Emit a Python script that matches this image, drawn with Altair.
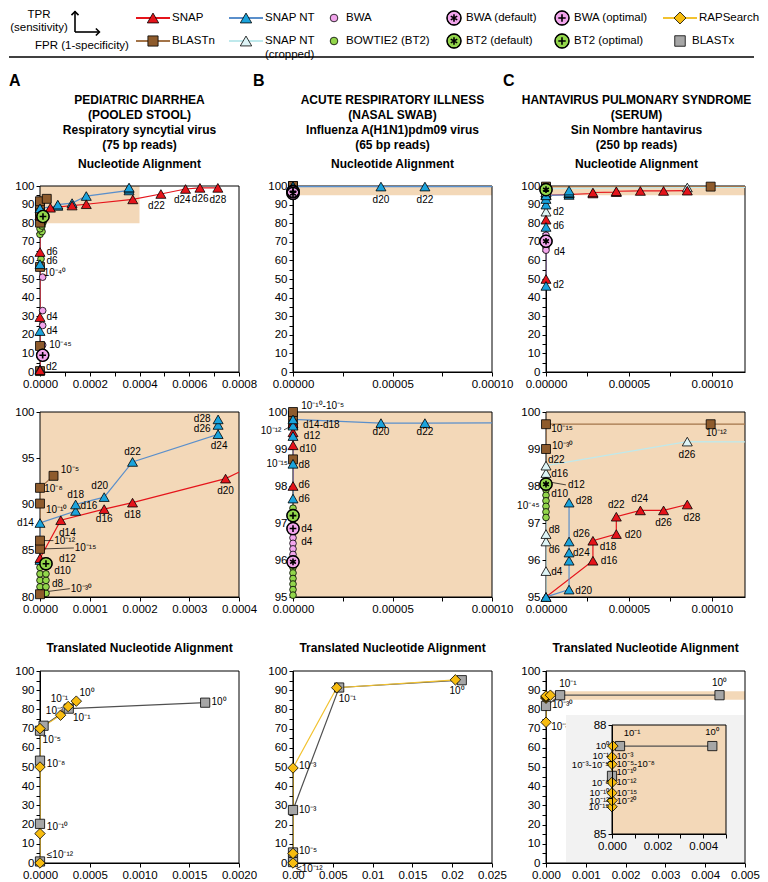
import altair as alt
import pandas as pd

FONT = "Liberation Sans"

# ---------------- colours / styles ----------------
TAN = "#F3D8B8"
RED = "#E5141B"
BLUE = "#1BA3DC"; BLUE_LINE = "#5A8FCB"
CROP = "#DDF4F6"; CROP_LINE = "#BFE9EC"
BROWN = "#8E5B2C"; BROWN_LINE = "#A37449"
PINK = "#F2A5EC"
GREEN = "#93D64B"
YELLOW = "#F7BC10"; YELLOW_LINE = "#F2C230"
GRAY = "#A6A6A6"; GRAY_LINE = "#505050"
STAR = "M0,-1L0,1M-0.87,-0.5L0.87,0.5M-0.87,0.5L0.87,-0.5"
PLUS = "M-1,0L1,0M0,-1L0,1"

STYLE = {
    "SNAP": {"shape": "triangle-up", "fill": RED, "line": RED, "size": 100},
    "SNAP NT": {"shape": "triangle-up", "fill": BLUE, "line": BLUE_LINE, "size": 100},
    "CROP": {"shape": "triangle-up", "fill": CROP, "line": CROP_LINE, "size": 100},
    "BLASTn": {"shape": "square", "fill": BROWN, "line": BROWN_LINE, "size": 80},
    "BWA": {"shape": "circle", "fill": PINK, "line": None, "size": 45},
    "BT2": {"shape": "circle", "fill": GREEN, "line": None, "size": 45},
    "BWA_DEF": {"shape": "circle", "fill": PINK, "line": None, "size": 150, "ov": STAR},
    "BWA_OPT": {"shape": "circle", "fill": PINK, "line": None, "size": 150, "ov": PLUS},
    "BT2_DEF": {"shape": "circle", "fill": GREEN, "line": None, "size": 150, "ov": STAR},
    "BT2_OPT": {"shape": "circle", "fill": GREEN, "line": None, "size": 150, "ov": PLUS},
    "RAP": {"shape": "diamond", "fill": YELLOW, "line": YELLOW_LINE, "size": 110},
    "BLASTx": {"shape": "square", "fill": GRAY, "line": GRAY_LINE, "size": 85},
    "BLASTx_PT": {"shape": "square", "fill": GRAY, "line": None, "size": 85},
}

# ---------------- data: column A ----------------
A_SNAP_X = [0, 0, 0, 0, 0.0000418, 0.000129, 0.000186, 0.000373, 0.000486, 0.000585, 0.000643, 0.000715]
A_SNAP_Y = [1.0, 29.5, 64.5, 84.2, 88.3, 89.5, 90.2, 92.8, 95.7, 98.4, 99.0, 99.0]
A_NT_X = [0, 0, 0, 0, 0, 0.0000716, 0.0000716, 0.000129, 0.000186, 0.000358, 0.000358, 0.000358]
A_NT_Y = [1.5, 22.0, 58.0, 84.0, 88.0, 89.3, 90.0, 90.8, 94.6, 97.6, 98.6, 99.2]
A_BLASTN_X = [0, 0, 0, 0, 0, 0, 0, 0, 0.0000272]
A_BLASTN_Y = [0.5, 14.0, 56.5, 80.3, 85.2, 86.1, 90.1, 91.8, 93.1]
A_BWA_X = [0.0000107, 0.0000107, 0.0000107, 0.0000107]
A_BWA_Y = [51.0, 33.0, 25.0, 14.5]
A_BWAOPT_X = [0.0000107]
A_BWAOPT_Y = [9.0]
A_BT2_X = [0, 0, 0, 0, 0, 0.000012, 0.000012, 0.000012, 0.000012, 0, 0.000008, 0, 0.000008, 0.000004]
A_BT2_Y = [80.4, 81.1, 81.8, 82.5, 83.2, 80.4, 81.1, 81.8, 82.5, 74.0, 75.5, 77.0, 78.5, 60.8]
A_BT2OPT_X = [0.000012]
A_BT2OPT_Y = [83.6]

A_TOP_LABELS = [
    ("d22", 0.000468, 89.4, "center"), ("d24", 0.000572, 92.4, "center"),
    ("d26", 0.000644, 92.9, "center"), ("d28", 0.000715, 92.4, "center"),
    ("d6", 0.000026, 64.5, "left"), ("d6", 0.000026, 59.6, "left"),
    ("10⁻⁴⁰", 0.000015, 53.0, "left"), ("d4", 0.000026, 29.4, "left"),
    ("d4", 0.000026, 22.0, "left"), ("10⁻⁴⁵", 0.000037, 14.4, "left"),
    ("d2", 0.000024, 2.8, "left"),
]
A_MID_LABELS = [
    ("d28", 0.000326, 99.25, "center"), ("d26", 0.000326, 98.2, "center"),
    ("d24", 0.00036, 96.3, "center"), ("d22", 0.000186, 95.7, "center"),
    ("d20", 0.00012, 92.0, "center"), ("d18", 0.0000716, 91.05, "center"),
    ("d16", 0.0000816, 89.8, "left"), ("d16", 0.000129, 88.4, "center"),
    ("d18", 0.000186, 88.9, "center"), ("d20", 0.000373, 91.5, "center"),
    ("d14", -0.0000125, 88.0, "right"), ("d14", 0.000055, 86.95, "center"),
    ("10⁻⁵", 0.0000418, 93.7, "left"), ("10⁻⁸", 0.0000086, 91.65, "left"),
    ("10⁻¹⁰", 0.000012, 89.45, "left"), ("10⁻¹²", 0.0000285, 86.06, "left"),
    ("10⁻¹⁵", 0.0000697, 85.35, "left"), ("d12", 0.0000384, 84.1, "left"),
    ("d10", 0.0000285, 82.85, "left"), ("d8", 0.0000239, 81.4, "left"),
    ("10⁻³⁰", 0.0000617, 80.9, "left"),
]
A_MID_LEADERS = [(0.000006, 86.1, 0.000027, 86.1), (0.000006, 85.2, 0.000068, 85.3),
                 (0.000016, 80.6, 0.00006, 80.9)]

# ---------------- data: column B ----------------
B_SNAP_X = [0, 0, 0, 0]
B_SNAP_Y = [98.0, 99.1, 99.45, 99.7]
B_NT_X = [0, 0, 0, 0, 0, 0.0000442, 0.0000663, 0.0002]
B_NT_Y = [97.66, 98.6, 99.35, 99.63, 99.8, 99.7, 99.7, 99.72]
B_BLASTN_X = [0, 0, 0, 0]
B_BLASTN_Y = [98.72, 99.65, 99.9, 100.0]
B_BWA_X = [0, 0, 0, 0]
B_BWA_Y = [96.6, 96.45, 96.3, 96.15]
B_BWAOPT_X = [0]
B_BWAOPT_Y = [96.85]
B_BWADEF_X = [0]
B_BWADEF_Y = [95.95]
B_BT2_X = [0, 0, 0, 0, 0, 0, 0]
B_BT2_Y = [97.4, 95.8, 95.65, 95.5, 95.35, 95.2, 95.05]
B_BT2OPT_X = [0]
B_BT2OPT_Y = [97.2]

B_TOP_LABELS = [("d20", 0.0000442, 92.4, "center"), ("d22", 0.0000663, 92.6, "center")]
B_MID_LABELS = [
    ("10⁻¹⁰-10⁻⁵", 0.0000041, 100.17, "left"), ("d14-d18", 0.000005, 99.65, "left"),
    ("10⁻¹²", -0.0000058, 99.5, "right"), ("d12", 0.0000054, 99.36, "left"),
    ("d10", 0.0000033, 99.0, "left"), ("10⁻¹⁵", -0.0000025, 98.6, "right"),
    ("d8", 0.0000028, 98.58, "left"), ("d6", 0.0000028, 98.04, "left"),
    ("d6", 0.0000028, 97.66, "left"), ("d4", 0.0000041, 96.83, "left"),
    ("d4", 0.0000041, 96.5, "left"), ("d20", 0.0000442, 99.47, "center"),
    ("d22", 0.0000663, 99.47, "center"),
]
B_MID_LEADERS = [(-0.0000045, 99.52, -0.0000005, 99.62)]

# ---------------- data: column C ----------------
C_SNAP_X = [0, 0, 0, 0.0000283, 0.0000283, 0.0000424, 0.0000424, 0.0000569, 0.0000709, 0.0000852]
C_SNAP_Y = [50.0, 81.9, 95.0, 95.98, 96.52, 96.7, 97.17, 97.34, 97.34, 97.5]
C_NT_X = [0, 0, 0, 0, 0, 0.0000139, 0.0000139, 0.0000139, 0.0000139, 0.0000139]
C_NT_Y = [46.3, 78.0, 90.0, 93.0, 95.0, 95.2, 95.98, 96.2, 96.5, 97.55]
C_CROP_X = [0, 0, 0, 0, 0, 0, 0, 0.0000852, 0.0003]
C_CROP_Y = [86.2, 95.7, 96.5, 96.7, 98.1, 98.35, 98.55, 99.2, 99.15]
C_BLASTN_X = [0, 0, 0.0000993, 0.0003]
C_BLASTN_Y = [99.0, 99.67, 99.67, 99.67]
C_BWA_X = [0, 0, 0]
C_BWA_Y = [73.5, 67.0, 65.5]
C_BWADEF_X = [0]
C_BWADEF_Y = [70.3]
C_BT2_X = [0, 0, 0, 0, 0, 0]
C_BT2_Y = [97.9, 97.75, 97.6, 97.45, 97.3, 97.15]
C_BT2DEF_X = [0]
C_BT2DEF_Y = [98.05]

C_TOP_LABELS = [("d2", 0.0000042, 86.2, "left"), ("d6", 0.0000042, 78.5, "left"),
                ("d4", 0.0000048, 64.5, "left"), ("d2", 0.0000042, 46.8, "left")]
C_MID_LABELS = [
    ("10⁻¹⁵", 0.0000032, 99.53, "left"), ("10⁻¹²", 0.0001027, 99.42, "center"),
    ("10⁻³⁰", 0.0000036, 99.08, "left"), ("d22", 0.0000012, 98.71, "left"),
    ("d16", 0.0000032, 98.33, "left"), ("d12", 0.0000133, 98.03, "left"),
    ("d10", 0.0000032, 97.79, "left"), ("10⁻⁴⁵", -0.0000038, 97.47, "right"),
    ("d28", 0.0000179, 97.6, "left"), ("d22", 0.0000424, 97.5, "center"),
    ("d24", 0.0000565, 97.65, "center"), ("d26", 0.0000709, 97.0, "center"),
    ("d28", 0.000088, 97.13, "center"), ("d26", 0.0000163, 96.7, "left"),
    ("d20", 0.0000475, 96.68, "left"), ("d18", 0.0000324, 96.34, "left"),
    ("d24", 0.0000163, 96.2, "left"), ("d16", 0.000033, 95.98, "left"),
    ("d8", 0.0000016, 96.8, "left"), ("d6", 0.0000016, 96.28, "left"),
    ("d4", 0.0000032, 95.68, "left"), ("d26", 0.000085, 98.83, "center"),
    ("d20", 0.0000177, 95.16, "left"),
]
C_MID_LEADERS = [(0.000003, 98.1, 0.000012, 98.03)]

# ---------------- data: translated alignment ----------------
A_BX_X = [0, 0, 0, 0, 0.000036, 0.000289, 0.00166]
A_BX_Y = [0.8, 20.4, 53.3, 68.9, 71.5, 80.4, 83.5]
A_RAP_X = [0, 0, 0, 0, 0.000207, 0.000283, 0.000365]
A_RAP_Y = [0.0, 15.3, 50.0, 70.0, 77.0, 81.5, 84.3]
A_BOT_LABELS = [
    ("≤10⁻¹²", 0.000069, 4.3, "left"), ("10⁻¹⁰", 0.000069, 18.6, "left"),
    ("10⁻⁸", 0.000069, 51.7, "left"), ("10⁻⁵", 0.000026, 64.3, "left"),
    ("10⁻³", 0.000059, 79.0, "left"), ("10⁻¹", 0.000108, 85.4, "left"),
    ("10⁰", 0.000397, 88.3, "left"), ("10⁻¹", 0.000332, 75.5, "left"),
    ("10⁰", 0.001724, 83.6, "left"),
]
B_BX_X = [0, 0, 0, 0.0058, 0.0212]
B_BX_Y = [0.5, 5.5, 27.6, 91.4, 95.2]
B_RAP_X = [0, 0, 0, 0.0055, 0.0204]
B_RAP_Y = [0.0, 5.0, 49.5, 91.3, 95.4]
B_BOT_LABELS = [
    ("10⁻³", 0.00075, 50.4, "left"), ("10⁻³", 0.00075, 27.6, "left"),
    ("10⁻⁵", 0.00075, 6.0, "left"), ("≤10⁻¹²", 0.0004, -3.0, "left"),
    ("10⁻¹", 0.00684, 85.5, "center"), ("10⁰", 0.0206, 89.4, "center"),
]
C_BX_X = [0, 0.000355, 0.00436]
C_BX_Y = [81.8, 87.4, 87.4]
C_RAP_X = [0, 0, 0, 0, 0, 0.00011]
C_RAP_Y = [73.3, 85.8, 86.2, 86.6, 87.0, 87.4]
C_BOT_LABELS = [("10⁻¹", 0.00055, 93.4, "center"), ("10⁰", 0.00436, 93.7, "center"),
                ("10⁻³⁰", 0.00015, 82.5, "left"), ("10⁻³⁰", 0.00013, 70.8, "left")]
# inset (zoom 85-88)
IN_BX_X = [0.000351, 0.0044]
IN_BX_Y = [87.42, 87.42]
IN_BXPT_X = [0]
IN_BXPT_Y = [86.6]
IN_RAP_X = [0, 0, 0, 0, 0, 0, 0.00004]
IN_RAP_Y = [85.75, 85.92, 86.13, 86.42, 86.92, 87.12, 87.42]
IN_LABELS = [
    ("10⁰", -0.00012, 87.42, "right"), ("10⁻¹", -0.00012, 87.14, "right"),
    ("10⁻³-10⁻⁵", -0.00012, 86.89, "right"), ("10⁻⁸", -0.00012, 86.4, "right"),
    ("10⁻¹⁰", -0.00012, 86.13, "right"), ("10⁻¹²", -0.00012, 85.92, "right"),
    ("10⁻¹⁵", -0.00012, 85.74, "right"),
    ("10⁻³", 0.0002, 87.16, "left"), ("10⁻⁵-10⁻⁸", 0.0002, 86.92, "left"),
    ("10⁻¹⁰", 0.0002, 86.71, "left"), ("10⁻¹²", 0.0002, 86.42, "left"),
    ("10⁻¹⁵", 0.0002, 86.13, "left"), ("10⁻²⁰", 0.0002, 85.92, "left"),
    ("10⁻¹", 0.00088, 87.78, "center"), ("10⁰", 0.00439, 87.82, "center"),
]

# ---------------- layout ----------------
W = 199
GAP = 54
H_TOP, H_MID, H_BOT = 186, 185, 192
LABEL_SIZE = 10


def ticks(a, b, step):
    n = int(round((b - a) / step))
    return [round(a + i * step, 10) for i in range(n + 1)]


def xaxis(vals, major, fmt, **kw):
    expr = f"abs(datum.value/{major} - round(datum.value/{major})) < 1e-6 ? datum.label : ''"
    return alt.Axis(values=vals, format=fmt, labelExpr=expr, labelFlush=False,
                    labelOverlap=False, title=None, **kw)


def yaxis(vals, major, expr=None, **kw):
    if expr is None:
        expr = f"abs(datum.value/{major} - round(datum.value/{major})) < 1e-6 ? datum.label : ''"
    return alt.Axis(values=vals, format="d", labelExpr=expr, labelOverlap=False,
                    labelFlush=False, title=None, **kw)


def sc(dom, rng=None):
    if rng is None:
        return alt.Scale(domain=dom, nice=False, zero=False)
    return alt.Scale(domain=dom, range=rng, nice=False, zero=False)


def build_points(series):
    pts, lns = [], []
    for key, xs, ys in series:
        st = STYLE[key]
        for i, (x, y) in enumerate(zip(xs, ys)):
            pts.append({"x": x, "y": y, "shape": st["shape"], "fill": st["fill"],
                        "size": st["size"], "ov": st.get("ov", "")})
            if st["line"]:
                lns.append({"x": x, "y": y, "s": key, "i": i, "lc": st["line"]})
    return pd.DataFrame(pts), pd.DataFrame(lns)


def layers_for(series, X, Y, xdom, ydom, bands=None, labels=(), leaders=(),
               frame_fill=None, label_size=LABEL_SIZE):
    out = []
    if bands:
        bdf = pd.DataFrame(bands, columns=["x", "x2", "y", "y2"])
        out.append(alt.Chart(bdf).mark_rect(color=TAN).encode(x=X, x2="x2:Q", y=Y, y2="y2:Q"))
    fdf = pd.DataFrame([{"x": xdom[0], "x2": xdom[1], "y": ydom[0], "y2": ydom[1]}])
    if frame_fill:
        fm = alt.Chart(fdf).mark_rect(fill=frame_fill, stroke="black", strokeWidth=1)
    else:
        fm = alt.Chart(fdf).mark_rect(fill="white", fillOpacity=0, stroke="black", strokeWidth=1)
    out.append(fm.encode(x=X, x2="x2:Q", y=Y, y2="y2:Q"))
    pts, lns = build_points(series)
    if len(lns):
        out.append(alt.Chart(lns).mark_line(clip=True, strokeWidth=1.2).encode(
            x=X, y=Y, detail="s:N", color=alt.Color("lc:N", scale=None), order="i:Q"))
    if leaders:
        ldf = pd.DataFrame(leaders, columns=["x", "y", "x2", "y2"])
        out.append(alt.Chart(ldf).mark_rule(color="black", strokeWidth=0.7).encode(
            x=X, y=Y, x2="x2:Q", y2="y2:Q"))
    tx = 0.015 * (xdom[1] - xdom[0])
    ty = 0.015 * (ydom[1] - ydom[0])
    pts = pts[(pts.x >= xdom[0] - tx) & (pts.x <= xdom[1] + tx) &
              (pts.y >= ydom[0] - ty) & (pts.y <= ydom[1] + ty)]
    out.append(alt.Chart(pts).mark_point(filled=True, opacity=1, stroke="black",
                                         strokeWidth=0.8).encode(
        x=X, y=Y, shape=alt.Shape("shape:N", scale=None),
        fill=alt.Fill("fill:N", scale=None), size=alt.Size("size:Q", scale=None)))
    ov = pts[pts.ov != ""]
    if len(ov):
        out.append(alt.Chart(ov).mark_point(filled=False, opacity=1, stroke="black",
                                            strokeWidth=1.4).encode(
            x=X, y=Y, shape=alt.value("circle"), size=alt.value(150)))
        out.append(alt.Chart(ov).mark_point(filled=False, opacity=1, stroke="black",
                                            strokeWidth=1.6).encode(
            x=X, y=Y, shape=alt.Shape("ov:N", scale=None), size=alt.value(45)))
    if labels:
        tdf = pd.DataFrame(labels, columns=["t", "x", "y", "a"])
        for a in ["left", "center", "right"]:
            sub = tdf[tdf.a == a]
            if len(sub):
                out.append(alt.Chart(sub).mark_text(align=a, baseline="middle",
                                                    fontSize=label_size, font=FONT,
                                                    color="black").encode(
                    x=X, y=Y, text="t:N"))
    return out


def spacer():
    return alt.Chart(pd.DataFrame({"a": [0]})).mark_rule(opacity=0).encode(
        x=alt.value(-31), x2=alt.value(-20), y=alt.value(20), y2=alt.value(20))


def top_title(lines, dx=0):
    return alt.TitleParams(text=lines, subtitle="Nucleotide Alignment", anchor="middle",
                           font=FONT, fontSize=12, fontWeight="bold", color="black",
                           lineHeight=15, subtitleFont=FONT, subtitleFontSize=12,
                           subtitleFontWeight="bold", subtitleColor="black",
                           subtitlePadding=7, offset=9, dx=dx)


BOT_TITLE = alt.TitleParams(text="Translated Nucleotide Alignment", anchor="middle", font=FONT,
                            fontSize=12, fontWeight="bold", color="black", offset=10)

Y_TOP = alt.Y("y:Q", scale=sc([0, 100]), axis=yaxis(ticks(0, 100, 5), 10))

# ---------- column A ----------
A_SERIES = [("BT2", A_BT2_X, A_BT2_Y), ("BWA", A_BWA_X, A_BWA_Y),
            ("BLASTn", A_BLASTN_X, A_BLASTN_Y), ("SNAP NT", A_NT_X, A_NT_Y),
            ("SNAP", A_SNAP_X, A_SNAP_Y), ("BT2_OPT", A_BT2OPT_X, A_BT2OPT_Y),
            ("BWA_OPT", A_BWAOPT_X, A_BWAOPT_Y)]
XA1 = alt.X("x:Q", scale=sc([0, 0.0008]), axis=xaxis(ticks(0, 0.0008, 0.0001), 0.0002, ".4f"))
pA1 = alt.layer(*layers_for(A_SERIES, XA1, Y_TOP, [0, 0.0008], [0, 100],
                            bands=[(0, 0.0004, 80, 100)], labels=A_TOP_LABELS)).properties(
    width=W, height=H_TOP,
    title=top_title(["PEDIATRIC DIARRHEA", "(POOLED STOOL)", "Respiratory syncytial virus",
                     "(75 bp reads)"]))
XA2 = alt.X("x:Q", scale=sc([0, 0.0004]), axis=xaxis(ticks(0, 0.0004, 0.0001), 0.0001, ".4f"))
YA2 = alt.Y("y:Q", scale=sc([80, 100]), axis=yaxis(ticks(80, 100, 5), 5))
pA2 = alt.layer(*layers_for(A_SERIES, XA2, YA2, [0, 0.0004], [80, 100],
                            bands=[(0, 0.0004, 80, 100)], labels=A_MID_LABELS,
                            leaders=A_MID_LEADERS)).properties(width=W, height=H_MID)
XA3 = alt.X("x:Q", scale=sc([0, 0.002]), axis=xaxis(ticks(0, 0.002, 0.0005), 0.0005, ".4f"))
pA3 = alt.layer(*layers_for([("BLASTx", A_BX_X, A_BX_Y), ("RAP", A_RAP_X, A_RAP_Y)],
                            XA3, Y_TOP, [0, 0.002], [0, 100], labels=A_BOT_LABELS),
                spacer()).properties(width=W, height=H_BOT, title=BOT_TITLE)

# ---------- column B ----------
B_SERIES = [("BT2", B_BT2_X, B_BT2_Y), ("BWA", B_BWA_X, B_BWA_Y),
            ("BLASTn", B_BLASTN_X, B_BLASTN_Y), ("SNAP", B_SNAP_X, B_SNAP_Y),
            ("SNAP NT", B_NT_X, B_NT_Y), ("BT2_OPT", B_BT2OPT_X, B_BT2OPT_Y),
            ("BWA_OPT", B_BWAOPT_X, B_BWAOPT_Y), ("BWA_DEF", B_BWADEF_X, B_BWADEF_Y)]
B_XT = ticks(0, 0.0001, 0.000025)
XB1 = alt.X("x:Q", scale=sc([0, 0.0001]), axis=xaxis(B_XT, 0.00005, ".5f"))
pB1 = alt.layer(*layers_for(B_SERIES, XB1, Y_TOP, [0, 0.0001], [0, 100],
                            bands=[(0, 0.0001, 95, 100)], labels=B_TOP_LABELS)).properties(
    width=W, height=H_TOP,
    title=top_title(["ACUTE RESPIRATORY ILLNESS", "(NASAL SWAB)", "Influenza A(H1N1)pdm09 virus",
                     "(65 bp reads)"]))
YB2 = alt.Y("y:Q", scale=sc([95, 100]), axis=yaxis(ticks(95, 100, 1), 1))
pB2 = alt.layer(*layers_for(B_SERIES, XB1, YB2, [0, 0.0001], [95, 100],
                            bands=[(0, 0.0001, 95, 100)], labels=B_MID_LABELS,
                            leaders=B_MID_LEADERS)).properties(width=W, height=H_MID)
XB3 = alt.X("x:Q", scale=sc([0, 0.025]),
            axis=alt.Axis(values=ticks(0, 0.025, 0.005), labelFlush=False, labelOverlap=False,
                          title=None,
                          labelExpr="datum.value == 0 ? '0.00' : format(datum.value, '~g')"))
pB3 = alt.layer(*layers_for([("BLASTx", B_BX_X, B_BX_Y), ("RAP", B_RAP_X, B_RAP_Y)],
                            XB3, Y_TOP, [0, 0.025], [0, 100], labels=B_BOT_LABELS)).properties(
    width=W, height=H_BOT, title=BOT_TITLE)

# ---------- column C ----------
C_SERIES = [("BT2", C_BT2_X, C_BT2_Y), ("BWA", C_BWA_X, C_BWA_Y),
            ("BLASTn", C_BLASTN_X, C_BLASTN_Y), ("CROP", C_CROP_X, C_CROP_Y),
            ("SNAP", C_SNAP_X, C_SNAP_Y), ("SNAP NT", C_NT_X, C_NT_Y),
            ("BWA_DEF", C_BWADEF_X, C_BWADEF_Y), ("BT2_DEF", C_BT2DEF_X, C_BT2DEF_Y)]
XC1 = alt.X("x:Q", scale=sc([0, 0.00012]), axis=xaxis(B_XT, 0.00005, ".5f"))
pC1 = alt.layer(*layers_for(C_SERIES, XC1, Y_TOP, [0, 0.00012], [0, 100],
                            bands=[(0, 0.00012, 95, 100)], labels=C_TOP_LABELS)).properties(
    width=W, height=H_TOP,
    title=top_title(["HANTAVIRUS PULMONARY SYNDROME", "(SERUM)", "Sin Nombre hantavirus",
                     "(250 bp reads)"], dx=-9))
pC2 = alt.layer(*layers_for(C_SERIES, XC1, YB2, [0, 0.00012], [95, 100],
                            bands=[(0, 0.00012, 95, 100)], labels=C_MID_LABELS,
                            leaders=C_MID_LEADERS)).properties(width=W, height=H_MID)

XC3 = alt.X("x:Q", scale=sc([0, 0.005]), axis=xaxis(ticks(0, 0.005, 0.001), 0.001, ".3f"))
main_c3 = layers_for([("BLASTx", C_BX_X, C_BX_Y), ("RAP", C_RAP_X, C_RAP_Y)],
                     XC3, Y_TOP, [0, 0.005], [0, 100], bands=[(0, 0.005, 85.0, 89.5)],
                     labels=C_BOT_LABELS)
IN_X0, IN_X1, IN_Y0, IN_Y1 = 66, 180, 163, 54
XIN = alt.X("x:Q", scale=sc([0, 0.005], [IN_X0, IN_X1]),
            axis=xaxis(ticks(0, 0.005, 0.001), 0.002, ".3f", orient="bottom",
                       offset=-(H_BOT - IN_Y0), zindex=2))
YIN = alt.Y("y:Q", scale=sc([85, 88], [IN_Y0, IN_Y1]),
            axis=yaxis(ticks(85, 88, 0.5), 1,
                       expr="datum.value == 85 || datum.value == 88 ? datum.label : ''",
                       orient="left", offset=-IN_X0, zindex=2))
inset_bg = alt.Chart(pd.DataFrame({"a": [0]})).mark_rect(color="#F2F2F2").encode(
    x=alt.value(20), x2=alt.value(W - 1), y=alt.value(44), y2=alt.value(H_BOT - 1))
inset_layers = [inset_bg] + layers_for(
    [("BLASTx_PT", IN_BXPT_X, IN_BXPT_Y), ("BLASTx", IN_BX_X, IN_BX_Y), ("RAP", IN_RAP_X, IN_RAP_Y)],
    XIN, YIN, [0, 0.005], [85, 88], labels=IN_LABELS, frame_fill=TAN, label_size=9.5)
pC3 = alt.layer(alt.layer(*main_c3), alt.layer(*inset_layers)).resolve_scale(
    x="independent", y="independent").properties(width=W, height=H_BOT, title=BOT_TITLE)

grid12 = alt.concat(pA1, pB1, pC1, pA2, pB2, pC2, columns=3,
                    spacing={"row": 40, "column": GAP}, bounds="flush")
row3 = alt.hconcat(pA3, pB3, pC3, spacing=GAP, bounds="flush")

# ---------------- legend (with panel letters) ----------------
LEG_SLOTS = [113, 206, 294, 414, 522, 640]
LEG_ROWS = [9, 32]
LEG_ITEMS = [("SNAP", "SNAP", 0, 0), ("BLASTn", "BLASTn", 0, 1),
             ("SNAP NT", "SNAP NT", 1, 0), ("SNAP NT\n(cropped)", "CROP", 1, 1),
             ("BWA", "BWA", 2, 0), ("BOWTIE2 (BT2)", "BT2", 2, 1),
             ("BWA (default)", "BWA_DEF", 3, 0), ("BT2 (default)", "BT2_DEF", 3, 1),
             ("BWA (optimal)", "BWA_OPT", 4, 0), ("BT2 (optimal)", "BT2_OPT", 4, 1),
             ("RAPSearch", "RAP", 5, 0), ("BLASTx", "BLASTx_PT", 5, 1)]
PANEL_LETTERS = ["A", "B", "C"]
LETTER_X = [-31, W + GAP - 40, 2 * (W + GAP) - 43]
LETTER_Y = 72

leg_pts, leg_lines, leg_txt = [], [], []
for label, key, slot, row in LEG_ITEMS:
    st = STYLE[key]
    cx, cy = LEG_SLOTS[slot], LEG_ROWS[row]
    leg_pts.append({"x": cx, "y": cy, "shape": st["shape"], "fill": st["fill"],
                    "size": st["size"] * 1.3, "ov": st.get("ov", "")})
    if st["line"]:
        leg_lines.append({"x": cx - 17, "x2": cx + 17, "y": cy, "y2": cy, "lc": st["line"]})
    leg_txt.append({"x": cx + (19 if st["line"] else 12), "y": cy, "t": label})
leg_pts = pd.DataFrame(leg_pts)
LX = alt.X("x:Q", scale=None, axis=None)
LY = alt.Y("y:Q", scale=None, axis=None)
leg_layers = [
    alt.Chart(pd.DataFrame([{"x": -31, "x2": 714, "y": 48, "y2": 48},
                            {"x": 35, "x2": 35, "y": 2, "y2": 23},
                            {"x": 35, "x2": 59, "y": 23, "y2": 23}])).mark_rule(
        color="black", strokeWidth=1.6).encode(x=LX, x2="x2:Q", y=LY, y2="y2:Q"),
    alt.Chart(pd.DataFrame([{"x": 35, "y": 4, "s": "M-1,0.6L0,-0.4L1,0.6"},
                            {"x": 58, "y": 23, "s": "M-0.6,-1L0.4,0L-0.6,1"}])).mark_point(
        filled=False, opacity=1, stroke="black", strokeWidth=1.6).encode(
        x=LX, y=LY, shape=alt.Shape("s:N", scale=None), size=alt.value(50)),
    alt.Chart(pd.DataFrame(leg_lines)).mark_rule(strokeWidth=2).encode(
        x=LX, x2="x2:Q", y=LY, y2="y2:Q", color=alt.Color("lc:N", scale=None)),
    alt.Chart(leg_pts).mark_point(filled=True, opacity=1, stroke="black", strokeWidth=0.8).encode(
        x=LX, y=LY, shape=alt.Shape("shape:N", scale=None), fill=alt.Fill("fill:N", scale=None),
        size=alt.Size("size:Q", scale=None)),
    alt.Chart(leg_pts[leg_pts.ov != ""]).mark_point(filled=False, opacity=1, stroke="black",
                                                     strokeWidth=1.4).encode(
        x=LX, y=LY, shape=alt.value("circle"), size=alt.value(195)),
    alt.Chart(leg_pts[leg_pts.ov != ""]).mark_point(filled=False, opacity=1, stroke="black",
                                                     strokeWidth=1.6).encode(
        x=LX, y=LY, shape=alt.Shape("ov:N", scale=None), size=alt.value(55)),
    alt.Chart(pd.DataFrame(leg_txt)).mark_text(align="left", baseline="middle", fontSize=11.5,
                                               font=FONT, lineBreak="\n", lineHeight=14,
                                               color="black").encode(x=LX, y=LY, text="t:N"),
    alt.Chart(pd.DataFrame([{"x": -1, "y": 6, "t": "TPR"},
                            {"x": -1, "y": 19, "t": "(sensitivity)"}])).mark_text(
        align="center", baseline="middle", fontSize=11.5, font=FONT, color="black").encode(
        x=LX, y=LY, text="t:N"),
    alt.Chart(pd.DataFrame([{"x": -5, "y": 37, "t": "FPR (1-specificity)"}])).mark_text(
        align="left", baseline="middle", fontSize=11.5, font=FONT, color="black").encode(
        x=LX, y=LY, text="t:N"),
    alt.Chart(pd.DataFrame({"x": LETTER_X, "y": [LETTER_Y] * 3, "t": PANEL_LETTERS})).mark_text(
        align="left", baseline="middle", fontSize=16, fontWeight="bold", font=FONT,
        color="black").encode(x=LX, y=LY, text="t:N"),
]
legend = alt.layer(*leg_layers).properties(width=3 * W + 2 * GAP, height=50)

chart = alt.vconcat(alt.vconcat(legend, grid12, spacing=4), row3, spacing=27).properties(
    padding=0, background="white"
).configure_view(strokeWidth=0).configure_axis(
    labelFont=FONT, labelFontSize=11.5, labelColor="black", domainColor="black",
    tickColor="black", domainWidth=1, tickWidth=1, tickSize=4, labelPadding=2, grid=False
).configure_title(font=FONT, color="black")

chart.save("out.html", embed_options={"renderer": "svg", "actions": False})
